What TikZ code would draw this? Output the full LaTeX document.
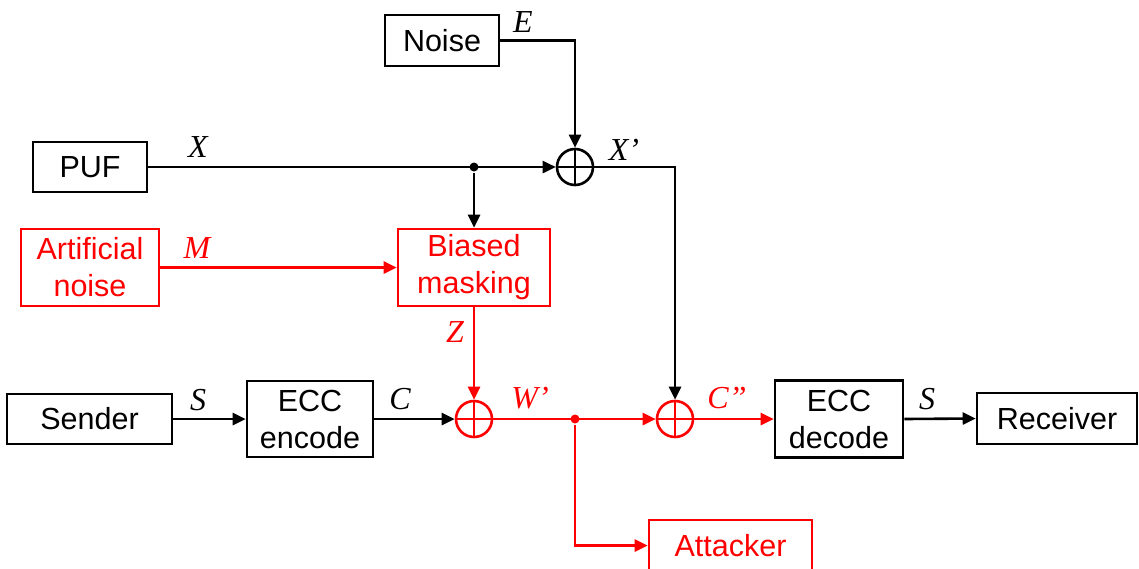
\documentclass[tikz,border=0pt]{standalone}
\usepackage{fontspec}
\setmainfont{Liberation Sans}
\newfontfamily\lblfont{Liberation Serif}
\usetikzlibrary{arrows.meta}
\begin{document}
\begin{tikzpicture}[x=1pt,y=-1pt,line width=2.6pt,
  box/.style={draw,rectangle,inner sep=0pt,align=center,font=\fontsize{30.5}{37}\selectfont},
  xorn/.style={draw,circle,minimum size=36pt,inner sep=0pt,
    path picture={\draw (path picture bounding box.north) -- (path picture bounding box.south)
      (path picture bounding box.west) -- (path picture bounding box.east);}},
  lab/.style={inner sep=0pt,font=\fontsize{32}{32}\lblfont\itshape},
  arr/.style={-{Triangle[length=13pt,width=12pt]}},
  dotn/.style={circle,fill,inner sep=0pt,minimum size=9pt}]
\useasboundingbox (0,0) rectangle (1139,568);
\clip (0,0) rectangle (1139,568);
% boxes
\node[box,minimum width=114pt,minimum height=51pt] (noise) at (442,40.5) {Noise};
\node[box,minimum width=114pt,minimum height=50pt] (puf) at (90,167) {PUF};
\node[box,red,minimum width=138pt,minimum height=77pt] (an) at (90,267.5) {Artificial\\noise};
\node[box,red,minimum width=152pt,minimum height=77pt] (bias) at (474,267.5) {Biased\\masking};
\node[box,minimum width=165pt,minimum height=50pt] (sender) at (89.5,419) {Sender};
\node[box,minimum width=126pt,minimum height=76pt] (enc) at (310,419) {ECC\\encode};
\node[box,minimum width=128pt,minimum height=77pt] (dec) at (839,419) {ECC\\decode};
\node[box,minimum width=160pt,minimum height=51pt] (recv) at (1057,418.5) {Receiver};
\node[box,red,minimum width=163pt,minimum height=51pt] (att) at (730.5,545.5) {Attacker};
% xor nodes
\node[xorn] (x1) at (575,167) {};
\node[xorn,red] (x3) at (474,419) {};
\node[xorn,red] (x2) at (675,419) {};
% junctions
\node[dotn] (j1) at (474,167) {};
\node[dotn,red] (j2) at (575,419) {};
% connectors
\draw[arr] (noise.east) -| (x1.north);
\draw[arr] (puf.east) -- (x1.west);
\draw[arr] (j1) -- (bias.north);
\draw[arr] (x1.east) -| (x2.north);
\draw[arr,red] (an.east) -- (bias.west);
\draw[arr,red] (bias.south) -- (x3.north);
\draw[arr] (sender.east) -- (enc.west);
\draw[arr] (enc.east) -- (x3.west);
\draw[arr,red] (x3.east) -- (x2.west);
\draw[arr,red] (j2) |- (att.west);
\draw[arr,red] (x2.east) -- (dec.west);
\draw[arr] (dec.east) -- (recv.west);
% labels
\node[lab] (lE) at (523,22) {E};
\node[lab] (lXp) at (624,150) {X’};
\node[lab] (lX) at (198,147) {X};
\node[lab,red] (lM) at (197,248) {M};
\node[lab] (lS1) at (198,400) {S};
\node[lab] (lC) at (400,399) {C};
\node[lab,red] (lZ) at (455,332) {Z};
\node[lab,red] (lW) at (530,398) {W’};
\node[lab,red] (lCpp) at (727,398) {C”};
\node[lab] (lS2) at (927,399) {S};
\end{tikzpicture}
\end{document}
